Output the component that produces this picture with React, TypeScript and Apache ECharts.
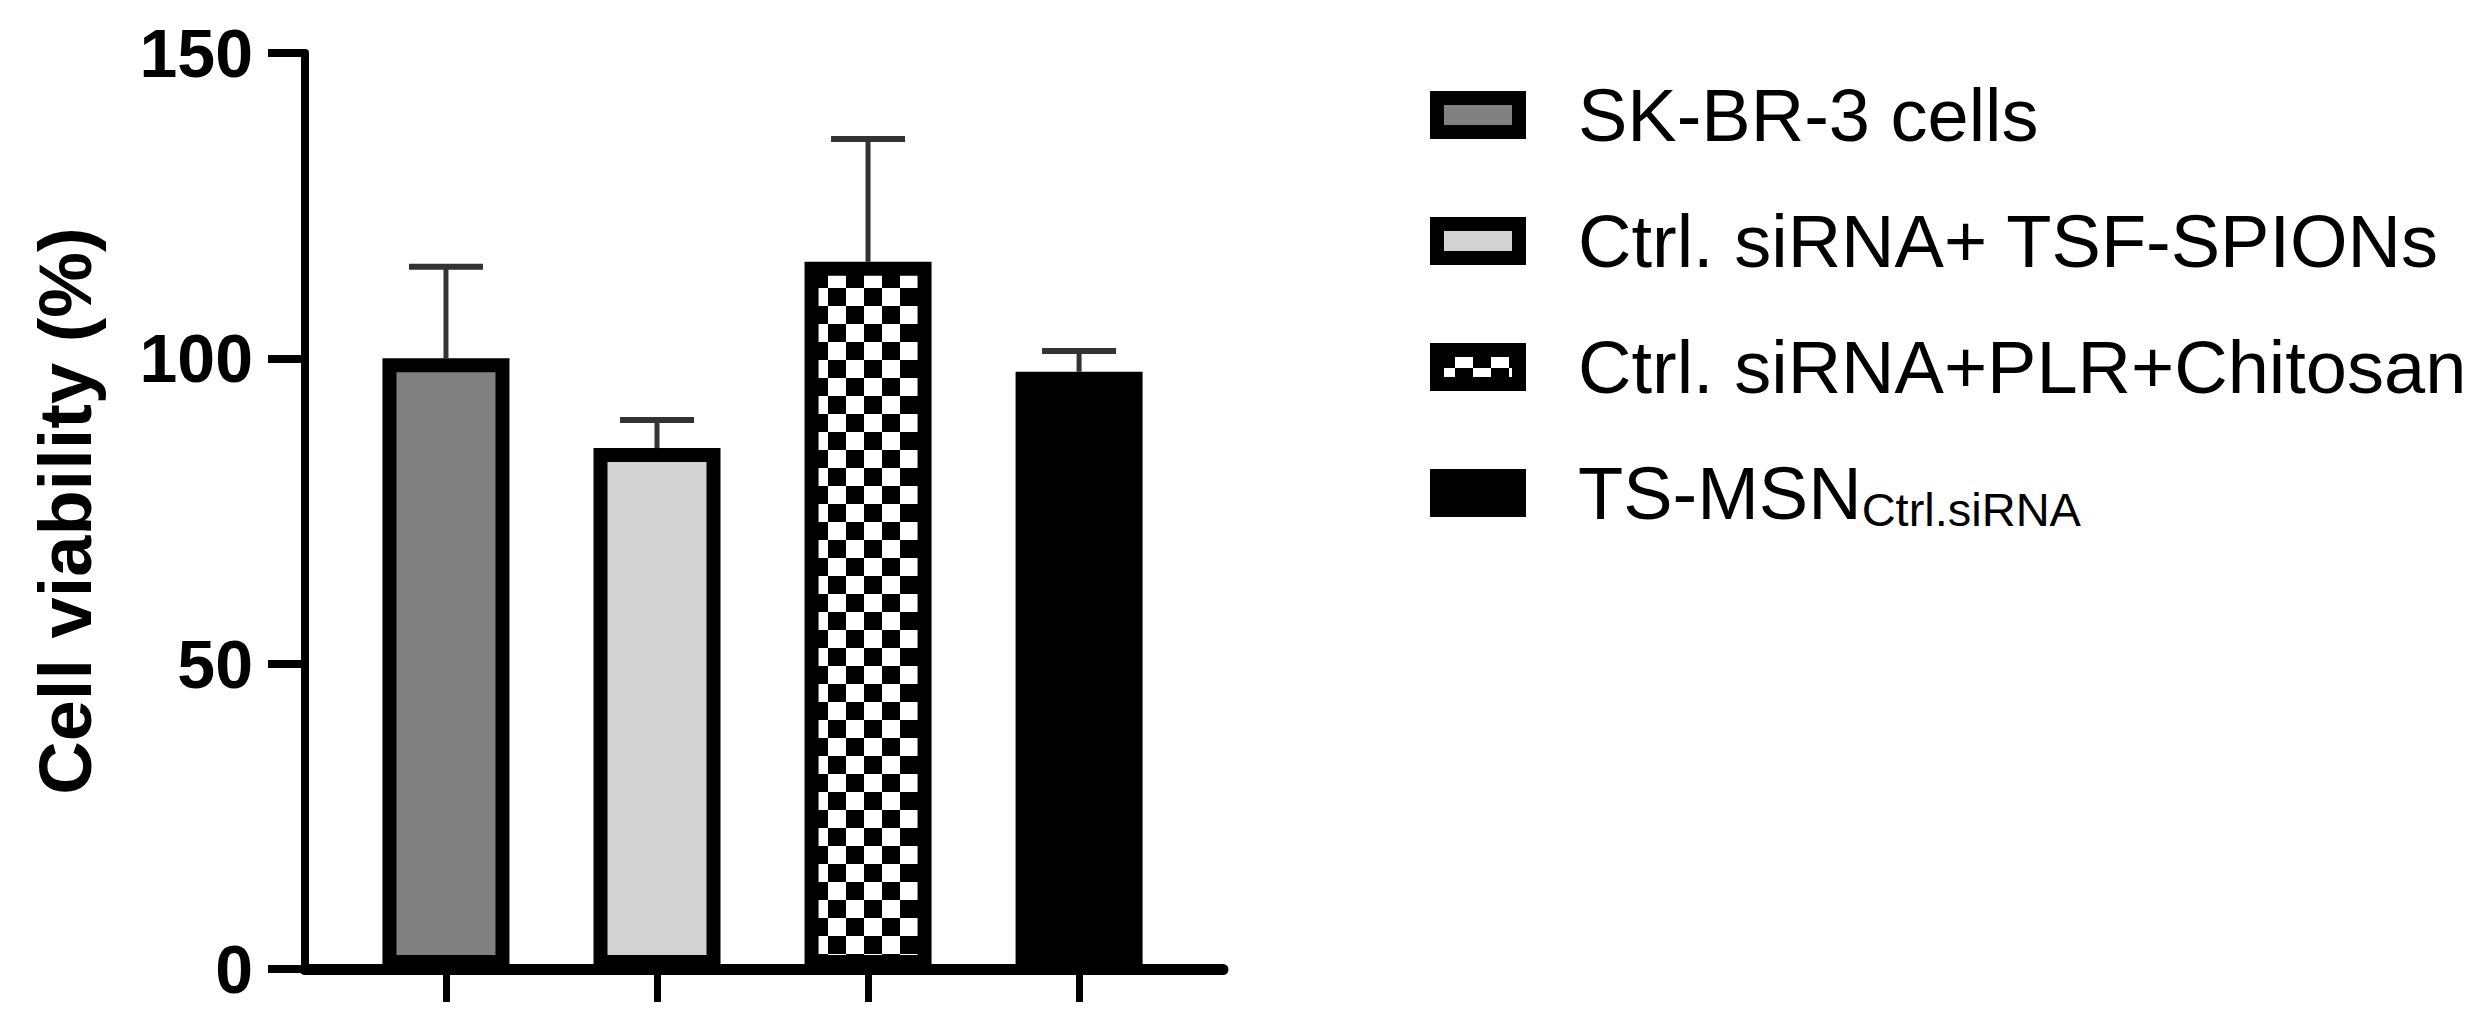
import React, { useEffect, useRef } from 'react';
import * as echarts from 'echarts';

// groups, shown as legend entries (the 4th one has a subscript part)
const categories = ['SK-BR-3 cells', 'Ctrl. siRNA+ TSF-SPIONs', 'Ctrl. siRNA+PLR+Chitosan', 'TS-MSN'];
const categorySubs = ['', '', '', 'Ctrl.siRNA'];

// mean and SD of cell viability (%)
const means = [100, 85.3, 115.8, 97.8];
const sds = [15, 4.6, 20.1, 3.4];

const yTicks = [0, 50, 100, 150];
const xPositions = [0, 1, 2, 3];

const FONT = '"Liberation Sans", Arial, sans-serif';

const makeChecker = (cell: number) => {
  const c = document.createElement('canvas');
  c.width = cell * 2;
  c.height = cell * 2;
  const ctx = c.getContext('2d')!;
  ctx.fillStyle = '#fff';
  ctx.fillRect(0, 0, cell * 2, cell * 2);
  ctx.fillStyle = '#000';
  ctx.fillRect(0, 0, cell, cell);
  ctx.fillRect(cell, cell, cell, cell);
  return c;
};

const App: React.FC = () => {
  const chartRef = useRef<HTMLDivElement>(null);

  useEffect(() => {
    if (!chartRef.current) return;
    const chart = echarts.init(chartRef.current, undefined, { renderer: 'svg' });

    const checker = makeChecker(18);
    const fills: any[] = [
      '#808080',
      '#d2d2d2',
      { image: checker, repeat: 'repeat', imageWidth: 36, imageHeight: 36 },
      '#000000'
    ];

    const option: any = {
      animation: false,
      backgroundColor: '#ffffff',
      grid: {
        left: 305,
        right: 2487 - 1223,
        top: 53,
        bottom: 1031 - 969,
        containLabel: false,
        outerBoundsMode: 'none'
      },
      legend: {
        orient: 'vertical',
        left: 1430,
        top: 75,
        padding: 0,
        itemWidth: 82,
        itemHeight: 34,
        itemGap: 46,
        icon: 'rect',
        selectedMode: false,
        data: categories,
        itemStyle: { borderColor: '#000', borderWidth: 14 },
        formatter: (name: string) => {
          const i = categories.indexOf(name);
          const sub = categorySubs[i];
          return sub ? `{a|${name}}{b|${sub}}` : `{a|${name}}`;
        },
        textStyle: {
          fontFamily: FONT,
          fontSize: 74,
          color: '#000',
          lineHeight: 80,
          padding: [0, 0, 0, 54],
          rich: {
            a: { fontFamily: FONT, fontSize: 74, lineHeight: 80, color: '#000' },
            b: { fontFamily: FONT, fontSize: 47, lineHeight: 24, verticalAlign: 'bottom', color: '#000' }
          }
        }
      },
      xAxis: {
        type: 'value',
        min: -0.668,
        max: 3.682,
        axisLine: { show: true, onZero: false, lineStyle: { color: '#000', width: 11 } },
        axisTick: {
          show: true,
          customValues: xPositions,
          length: 33,
          lineStyle: { color: '#000', width: 7 }
        },
        axisLabel: { show: false },
        splitLine: { show: false }
      },
      yAxis: {
        type: 'value',
        min: yTicks[0],
        max: yTicks[yTicks.length - 1],
        interval: 50,
        name: 'Cell viability (%)',
        nameLocation: 'middle',
        nameGap: 203,
        nameTextStyle: { fontFamily: FONT, fontSize: 74, fontWeight: 'bold', color: '#000' },
        axisLine: { show: true, onZero: false, lineStyle: { color: '#000', width: 8 } },
        axisTick: { show: true, length: 37, lineStyle: { color: '#000', width: 8 } },
        axisLabel: { margin: 52, fontFamily: FONT, fontSize: 68, fontWeight: 'bold', color: '#000' },
        splitLine: { show: false }
      },
      series: [
        ...categories.map((name, i) => ({
          name,
          type: 'bar',
          barWidth: 127,
          barGap: '-100%',
          data: [[xPositions[i], means[i]]],
          itemStyle: { color: fills[i], borderColor: '#000', borderWidth: 14 },
          z: 2
        })),
        {
          name: 'error',
          type: 'custom',
          z: 3,
          encode: { x: 0, y: [1, 2] },
          data: means.map((m, i) => [xPositions[i], m, m + sds[i]]),
          renderItem: (_params: any, api: any) => {
            const x = api.value(0);
            const base = api.coord([x, api.value(1)]);
            const top = api.coord([x, api.value(2)]);
            return {
              type: 'group',
              children: [
                {
                  type: 'line',
                  shape: { x1: base[0], y1: base[1], x2: top[0], y2: top[1] },
                  style: { stroke: '#333', lineWidth: 5 }
                },
                {
                  type: 'line',
                  shape: { x1: top[0] - 37, y1: top[1], x2: top[0] + 37, y2: top[1] },
                  style: { stroke: '#333', lineWidth: 6 }
                }
              ]
            };
          }
        }
      ]
    };

    chart.setOption(option);

    const handleResize = () => chart.resize();
    window.addEventListener('resize', handleResize);
    return () => {
      window.removeEventListener('resize', handleResize);
      chart.dispose();
    };
  }, []);

  return (
    <div
      ref={chartRef}
      style={{ position: 'fixed', left: 0, top: 0, width: 2487, height: 1031, background: '#fff' }}
    />
  );
};

export default App;
